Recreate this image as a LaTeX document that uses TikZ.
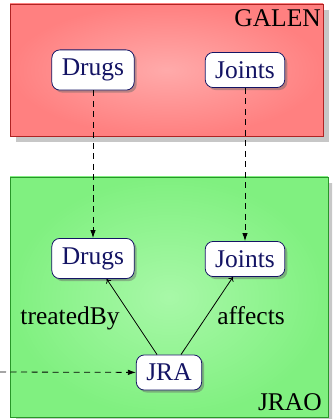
\documentclass[tikz,border=0pt]{standalone}
\usepackage{fontspec}
\setmainfont{Liberation Serif}
\usetikzlibrary{shadows,arrows.meta}
\definecolor{navy}{RGB}{20,20,100}
\definecolor{redin}{RGB}{255,170,170}
\definecolor{redout}{RGB}{255,128,128}
\definecolor{redline}{RGB}{175,35,35}
\definecolor{grnin}{RGB}{168,248,168}
\definecolor{grnout}{RGB}{128,240,128}
\definecolor{grnline}{RGB}{40,150,40}
\tikzset{
  bigfont/.style={font=\fontsize{25.5}{30}\selectfont},
  concept/.style={draw=navy, line width=0.8pt, fill=white, rounded corners=8pt,
    text=navy, inner xsep=10pt, inner ysep=9pt, bigfont,
    drop shadow={shadow xshift=2.5pt, shadow yshift=-2.5pt, opacity=0.45, fill=black!60}},
  onto/.style={line width=0.9pt,
    drop shadow={shadow xshift=6pt, shadow yshift=-6pt, opacity=1, fill=black!22}},
  mapping/.style={draw=black, line width=0.8pt, dash pattern=on 6pt off 4.5pt,
    -{Latex[length=8pt,width=5.5pt]}},
  relation/.style={draw=black, line width=0.8pt, -{To[length=4pt,width=6pt]}},
  lbl/.style={bigfont, inner sep=0pt},
}
\begin{document}
\begin{tikzpicture}[x=1pt,y=-1pt]
\useasboundingbox (0,0) rectangle (332,419);
\clip (0,0) rectangle (332,419);
% ontology boxes
\path[onto, draw=redline, inner color=redin, outer color=redout] (10,4) rectangle (323,136);
\path[onto, draw=grnline, inner color=grnin, outer color=grnout] (10,177) rectangle (328,417);
\node[lbl, anchor=base east] (galen) at (321,27) {GALEN};
\node[lbl, anchor=base east] (jrao) at (322,410) {JRAO};
% concepts
\node[concept] (gdrugs) at (93,70) {Drugs};
\node[concept] (gjoints) at (245,70) {Joints};
\node[concept] (jdrugs) at (93,258.5) {Drugs};
\node[concept] (jjoints) at (245,259) {Joints};
\node[concept] (jra) at (169,372.5) {JRA};
\coordinate (ext) at (0,372);
% connectors
\draw[mapping] (gdrugs) -- (jdrugs);
\draw[mapping] (gjoints) -- (jjoints);
\draw[mapping] (ext) -- (jra);
\draw[relation] (jra) -- (jdrugs);
\draw[relation] (jra) -- (jjoints);
\node[lbl, anchor=base] (tb) at (70,324) {treatedBy};
\node[lbl, anchor=base] (af) at (251,324) {affects};
\end{tikzpicture}
\end{document}
